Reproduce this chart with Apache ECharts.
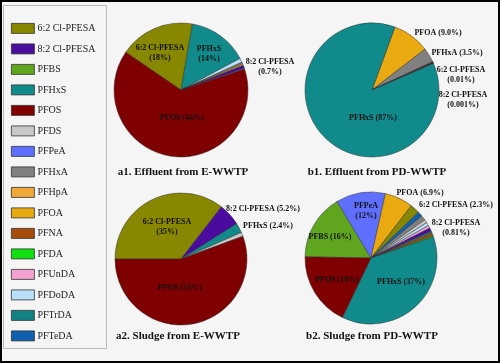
<!DOCTYPE html>
<html>
<head>
<meta charset="utf-8">
<script src="https://cdn.jsdelivr.net/npm/echarts@6/dist/echarts.min.js"></script>
<style>
html,body{margin:0;padding:0;background:#f5f5f5;}
#main{width:500px;height:363px;}
</style>
</head>
<body>
<div id="main"></div>
<script>
// ---------- data ----------
const categories = ['6:2 Cl-PFESA','8:2 Cl-PFESA','PFBS','PFHxS','PFOS','PFDS','PFPeA','PFHxA','PFHpA','PFOA','PFNA','PFDA','PFUnDA','PFDoDA','PFTrDA','PFTeDA'];

const a1Names  = ['6:2 Cl-PFESA','PFHxS','PFDoDA','PFHxA','PFOA','8:2 Cl-PFESA','PFPeA','PFOS'];
const a1Values = [18, 14.3, 1.0, 0.4, 0.4, 0.7, 0.2, 64];
const a1Labels = {'6:2 Cl-PFESA':'6:2 Cl-PFESA\n(18%)','PFHxS':'PFHxS\n(14%)','PFOS':'PFOS (64%)','8:2 Cl-PFESA':'8:2 Cl-PFESA\n(0.7%)'};

const b1Names  = ['PFOA','PFHxA','PFOS','6:2 Cl-PFESA','8:2 Cl-PFESA','PFTeDA','PFHxS'];
const b1Values = [9.0, 3.5, 0.3, 0.01, 0.001, 0.15, 87];
const b1Labels = {'PFOA':'PFOA (9.0%)','PFHxA':'PFHxA (3.5%)','6:2 Cl-PFESA':'6:2 Cl-PFESA\n(0.01%)','8:2 Cl-PFESA':'8:2 Cl-PFESA\n(0.001%)','PFHxS':'PFHxS (87%)'};

const a2Names  = ['6:2 Cl-PFESA','8:2 Cl-PFESA','PFHxS','PFDS','PFOS'];
const a2Values = [35.5, 5.5, 2.4, 1.0, 55.6];
const a2Labels = {'6:2 Cl-PFESA':'6:2 Cl-PFESA\n(35%)','8:2 Cl-PFESA':'8:2 Cl-PFESA (5.2%)','PFHxS':'PFHxS (2.4%)','PFOS':'PFOS (55%)'};

const b2Names  = ['PFBS','PFPeA','PFOA','6:2 Cl-PFESA','PFTeDA','PFHxA','PFDS','PFDoDA','PFUnDA','8:2 Cl-PFESA','PFTrDA','PFHpA','PFNA','PFDA','PFHxS','PFOS'];
const b2Values = [16, 12, 6.9, 2.3, 1.2, 1.2, 0.8, 0.8, 0.7, 0.81, 0.4, 0.2, 0.6, 0.3, 37, 18];
const b2Labels = {'PFBS':'PFBS (16%)','PFPeA':'PFPeA\n(12%)','PFOA':'PFOA (6.9%)','6:2 Cl-PFESA':'6:2 Cl-PFESA (2.3%)','8:2 Cl-PFESA':'8:2 Cl-PFESA\n(0.81%)','PFHxS':'PFHxS (37%)','PFOS':'PFOS (18%)'};

const titles = ['a1. Effluent from E-WWTP','b1. Effluent from PD-WWTP','a2. Sludge from E-WWTP','b2. Sludge from PD-WWTP'];

// ---------- styles / layout ----------
const colorOf = {
  '6:2 Cl-PFESA':'#878700','8:2 Cl-PFESA':'#4a0c9e','PFBS':'#5fa51e','PFHxS':'#108a8a',
  'PFOS':'#7f0000','PFDS':'#c8c8c8','PFPeA':'#5f6fff','PFHxA':'#808080','PFHpA':'#f0a838',
  'PFOA':'#e8aa10','PFNA':'#a84c0c','PFDA':'#10e010','PFUnDA':'#f2a2d2','PFDoDA':'#b8e0f8',
  'PFTrDA':'#108282','PFTeDA':'#1060b0'
};
const labelPos = {
  a1:{'6:2 Cl-PFESA':[-21,-37],'PFHxS':[28,-36],'PFOS':[1,28],'8:2 Cl-PFESA':[89,-23]},
  b1:{'PFOA':[66,-57],'PFHxA':[85,-37],'6:2 Cl-PFESA':[89,-15],'8:2 Cl-PFESA':[91,10],'PFHxS':[1,28]},
  a2:{'6:2 Cl-PFESA':[-14,-32],'8:2 Cl-PFESA':[82,-50],'PFHxS':[87,-33],'PFOS':[-1,29]},
  b2:{'PFPeA':[-5,-47],'PFOA':[49,-65],'6:2 Cl-PFESA':[85,-53],'8:2 Cl-PFESA':[85,-30],'PFBS':[-41,-21],'PFOS':[-34,22],'PFHxS':[30,24]}
};
const SERIF = 'Liberation Serif, Times New Roman, serif';

function pie(key, names, values, labels, cx, cy, r, startAngle){
  const pos = labelPos[key];
  return {
    type:'pie', name:key, center:[cx,cy], radius:r, startAngle:startAngle, clockwise:true,
    avoidLabelOverlap:false, animation:false,
    emphasis:{disabled:true, scale:false},
    itemStyle:{borderColor:'#333', borderWidth:0.5},
    label:{show:true, position:'inside', formatter:p=>labels[p.name]||'',
      fontFamily:SERIF, fontWeight:'bold', fontSize:8, lineHeight:10, color:'#111'},
    labelLine:{show:false},
    labelLayout:function(p){
      const o = pos[names[p.dataIndex]];
      if(!o) return {};
      return {x:cx+o[0], y:cy+o[1], align:'center', verticalAlign:'middle'};
    },
    data:names.map((n,i)=>({name:n, value:values[i], itemStyle:{color:colorOf[n]}, label:{show:!!labels[n]}}))
  };
}

const titlePos = [[183,167],[377,167],[178,331],[372,331]];

const chart = echarts.init(document.getElementById('main'), null, {renderer:'canvas'});
chart.setOption({
  backgroundColor:'#f5f5f5',
  animation:false,
  title:titles.map((t,i)=>({text:t, left:titlePos[i][0], top:titlePos[i][1], textAlign:'center', padding:0,
      textStyle:{fontFamily:SERIF, fontWeight:'bold', fontSize:11, color:'#111'}})),
  legend:{
    orient:'vertical', left:11, top:23, itemWidth:23, itemHeight:10, itemGap:9.7, padding:0,
    icon:'rect', selectedMode:false, data:categories,
    itemStyle:{borderColor:'#333', borderWidth:0.8},
    textStyle:{fontFamily:SERIF, fontSize:10, lineHeight:10, height:10, padding:[0,0,0,-2], color:'#222'}
  },
  graphic:[
    {type:'rect', shape:{x:3.5,y:5.5,width:103,height:343}, style:{fill:'none', stroke:'#b8b8b8', lineWidth:1}, z:-1},
    {type:'rect', shape:{x:1,y:1,width:498,height:361}, style:{fill:'none', stroke:'#000', lineWidth:2}, z:10}
  ],
  series:[
    pie('a1', a1Names, a1Values, a1Labels, 181, 90, 67, 145.6),
    pie('b1', b1Names, b1Values, b1Labels, 372, 90, 67, 70),
    pie('a2', a2Names, a2Values, a2Labels, 181, 259, 66, 180),
    pie('b2', b2Names, b2Values, b2Labels, 371, 258, 66, 179)
  ]
});
</script>
</body>
</html>
